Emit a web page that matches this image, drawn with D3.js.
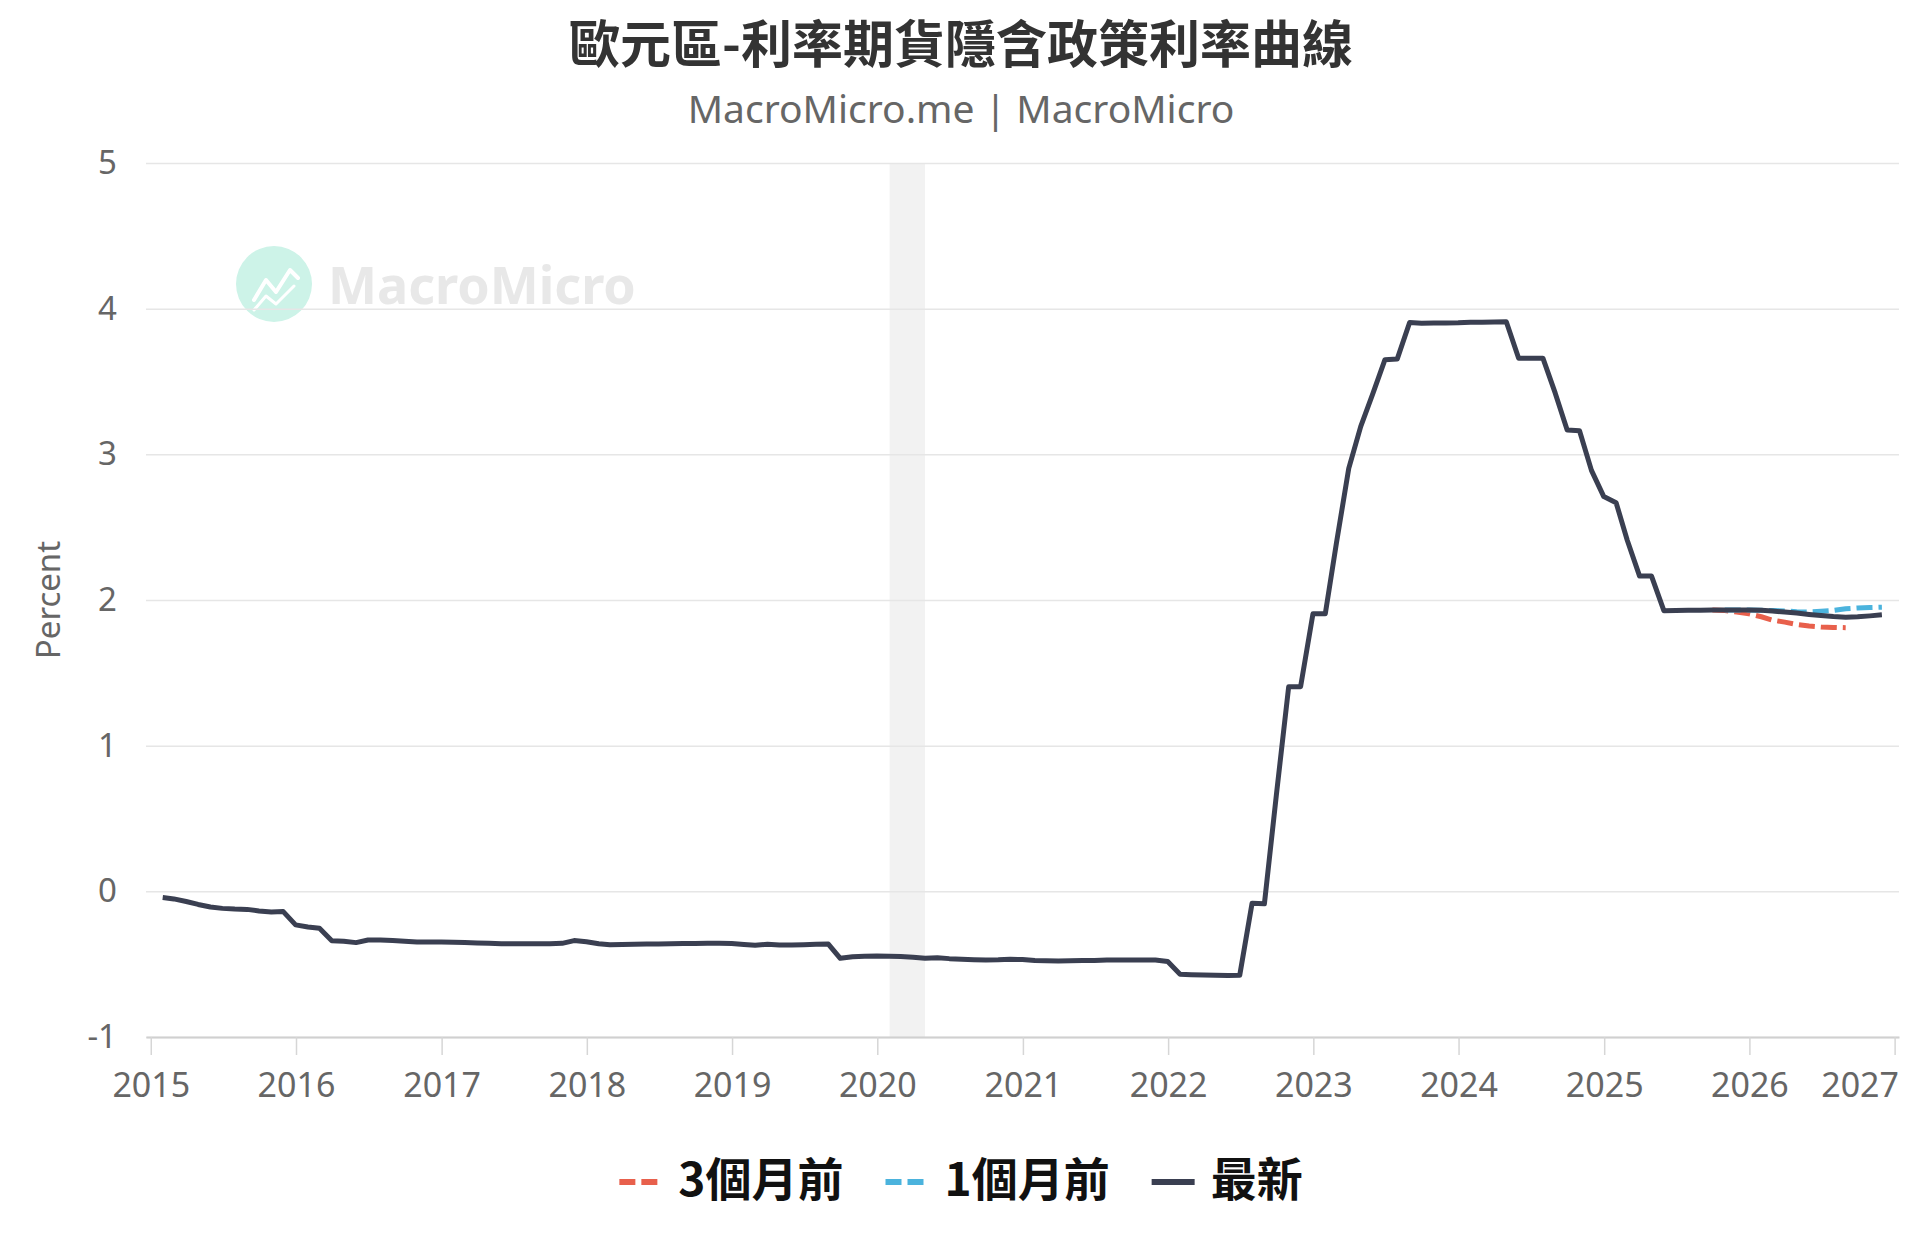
<!DOCTYPE html>
<html><head><meta charset="utf-8">
<script src="https://cdn.jsdelivr.net/npm/d3@7"></script>
<style>
body{margin:0;background:#fff;}
svg{display:block;font-family:"Noto Sans","Noto Sans CJK TC",sans-serif;}
</style>
</head><body>
<svg id="chart" width="1920" height="1250"></svg>
<script>
// ---------- data ----------
const chartTitle = "歐元區-利率期貨隱含政策利率曲線";
const chartSubtitle = "MacroMicro.me | MacroMicro";
const yAxisTitle = "Percent";
const yTickValues = [-1, 0, 1, 2, 3, 4, 5];
const xTickYears = [2015, 2016, 2017, 2018, 2019, 2020, 2021, 2022, 2023, 2024, 2025, 2026, 2027];
const seriesNames = ["3個月前", "1個月前", "最新"];
const recessionRange = ["2020-02-01", "2020-04-30"];

// monthly (month-end) observations
const latestStart = "2015-01";
const latestValues = [
  -0.043,-0.052,-0.07,-0.09,-0.108,-0.117,-0.122,-0.124,-0.135,-0.142,-0.139,-0.23,
  -0.245,-0.254,-0.34,-0.342,-0.352,-0.334,-0.334,-0.338,-0.343,-0.347,-0.347,-0.348,
  -0.35,-0.352,-0.354,-0.357,-0.359,-0.359,-0.359,-0.359,-0.359,-0.357,-0.338,-0.346,
  -0.36,-0.367,-0.365,-0.363,-0.362,-0.361,-0.36,-0.358,-0.358,-0.357,-0.357,-0.358,
  -0.365,-0.37,-0.364,-0.368,-0.369,-0.366,-0.364,-0.362,-0.46,-0.449,-0.445,-0.444,
  -0.446,-0.448,-0.452,-0.46,-0.456,-0.462,-0.466,-0.469,-0.471,-0.47,-0.467,-0.468,
  -0.475,-0.477,-0.478,-0.477,-0.475,-0.474,-0.471,-0.471,-0.471,-0.471,-0.472,-0.482,
  -0.569,-0.572,-0.574,-0.576,-0.578,-0.576,-0.082,-0.086,0.66,1.405,1.405,1.905,
  1.905,2.39,2.904,3.19,3.42,3.65,3.655,3.905,3.90,3.902,3.902,3.903,
  3.906,3.907,3.908,3.91,3.66,3.66,3.66,3.42,3.167,3.162,2.89,2.71,
  2.668,2.41,2.164,2.164,1.927,1.928,1.929,1.930,1.931,1.932,1.932,1.932,
  1.93,1.924,1.917,1.91,1.901,1.893,1.886,1.882,1.885,1.891,1.898
];
const threeMonthStart = "2025-09";
const threeMonthValues = [1.931,1.928,1.918,1.905,1.885,1.862,1.848,1.832,1.821,1.815,1.812,1.81];
const oneMonthStart = "2025-10";
const oneMonthValues = [1.932,1.932,1.932,1.93,1.928,1.924,1.92,1.918,1.922,1.928,1.94,1.945,1.948,1.95];

// ---------- helpers ----------
const parseMonth = d3.utcParse("%Y-%m");
function toPoints(start, values) {
  const s = parseMonth(start);
  return values.map((v, i) => ({ date: new Date(Date.UTC(s.getUTCFullYear(), s.getUTCMonth() + i + 1, 0)), value: v }));
}
const series = [
  { name: seriesNames[0], color: "#e8604c", dash: "16,6", points: toPoints(threeMonthStart, threeMonthValues) },
  { name: seriesNames[1], color: "#4bb3dd", dash: "16,6", points: toPoints(oneMonthStart, oneMonthValues) },
  { name: seriesNames[2], color: "#3a3f51", dash: null, points: toPoints(latestStart, latestValues) }
];

// ---------- layout ----------
const svg = d3.select("#chart");
const plot = { left: 146, right: 1899, top: 163, bottom: 1037 };
const x = d3.scaleUtc()
  .domain([new Date(Date.UTC(2014, 11, 20)), new Date(Date.UTC(2027, 0, 12))])
  .range([plot.left, plot.right]);
const y = d3.scaleLinear().domain([-1, 5]).range([plot.bottom, plot.top]);

svg.append("rect").attr("width", 1920).attr("height", 1250).attr("fill", "#fff");

// recession band
const rp = d3.utcParse("%Y-%m-%d");
svg.append("rect")
  .attr("x", x(rp(recessionRange[0])))
  .attr("width", x(rp(recessionRange[1])) - x(rp(recessionRange[0])))
  .attr("y", plot.top).attr("height", plot.bottom - plot.top)
  .attr("fill", "#f2f2f2");

// watermark
const wm = svg.append("g");
wm.append("circle").attr("cx", 274).attr("cy", 284).attr("r", 38).attr("fill", "#cdf3e8");
wm.append("polyline")
  .attr("points", "254,300 266,280 276,292 290,270 298,278")
  .attr("fill", "none").attr("stroke", "#fff").attr("stroke-width", 4)
  .attr("stroke-linejoin", "round").attr("stroke-linecap", "round");
wm.append("polyline")
  .attr("points", "254,310 266,296 276,304 294,286")
  .attr("fill", "none").attr("stroke", "#fff").attr("stroke-width", 3)
  .attr("stroke-linejoin", "round").attr("stroke-linecap", "round");
wm.append("text").attr("x", 328).attr("y", 304)
  .attr("font-size", 52).attr("font-weight", 700).attr("fill", "#e8e8e8")
  .text("MacroMicro");

// gridlines + y axis
const yAxis = d3.axisLeft(y).tickValues(yTickValues).tickSize(-(plot.right - plot.left)).tickPadding(29)
  .tickFormat(d => String(d));
const gy = svg.append("g").attr("transform", `translate(${plot.left},0)`).call(yAxis);
gy.select(".domain").remove();
gy.selectAll(".tick line").attr("stroke", "#e6e6e6").attr("stroke-width", 1.5);
gy.selectAll(".tick text").attr("fill", "#666").attr("font-size", 33).attr("font-family", "Noto Sans, sans-serif");

// x axis
const xAxis = d3.axisBottom(x)
  .tickValues(xTickYears.map(yr => new Date(Date.UTC(yr, 0, 1))))
  .tickFormat(d3.utcFormat("%Y")).tickSize(18).tickSizeOuter(0).tickPadding(18);
const gx = svg.append("g").attr("transform", `translate(0,${plot.bottom})`).call(xAxis);
gx.select(".domain").attr("stroke", "#d0d0d0").attr("stroke-width", 2);
gx.selectAll(".tick line").attr("stroke", "#d6d6d6").attr("stroke-width", 1.5);
gx.selectAll(".tick text").attr("fill", "#666").attr("font-size", 34).attr("font-family", "Noto Sans, sans-serif");
gx.selectAll(".tick text").each(function () {
  const bb = this.getBBox();
  const tx = +this.parentNode.getAttribute("transform").match(/translate\(([-\d.]+)/)[1];
  if (tx + bb.width / 2 > plot.right) {
    d3.select(this).attr("text-anchor", "end").attr("x", plot.right - tx);
  }
});

// y axis title
svg.append("text")
  .attr("transform", `translate(60,${(plot.top + plot.bottom) / 2}) rotate(-90)`)
  .attr("text-anchor", "middle").attr("fill", "#666").attr("font-size", 33)
  .text(yAxisTitle);

// lines
const line = d3.line().x(d => x(d.date)).y(d => y(d.value));
series.forEach(s => {
  svg.append("path").datum(s.points)
    .attr("d", line).attr("fill", "none")
    .attr("stroke", s.color).attr("stroke-width", 5)
    .attr("stroke-linejoin", "round")
    .attr("stroke-dasharray", s.dash);
});

// title
svg.append("text").attr("x", 961).attr("y", 63).attr("text-anchor", "middle")
  .attr("font-size", 51).attr("font-weight", 700).attr("fill", "#333")
  .attr("font-family", "Noto Sans CJK TC, Noto Sans, sans-serif")
  .text(chartTitle);
svg.append("text").attr("x", 961).attr("y", 123).attr("text-anchor", "middle")
  .attr("font-size", 39).attr("fill", "#666")
  .text(chartSubtitle);

// legend
const lg = svg.append("g");
const symW = 43, symGap = 16, itemGap = 42, legendY = 1180;
let cx = 0;
series.forEach(s => {
  const g = lg.append("g").attr("transform", `translate(${cx},0)`);
  g.append("line").attr("x1", 0).attr("x2", symW).attr("y1", legendY + 2).attr("y2", legendY + 2)
    .attr("stroke", s.color).attr("stroke-width", 6).attr("stroke-dasharray", s.dash);
  const t = g.append("text").attr("x", symW + symGap).attr("y", legendY + 16)
    .attr("font-size", 46).attr("font-weight", 700).attr("fill", "#111")
    .attr("font-family", "Noto Sans CJK TC, Noto Sans, sans-serif")
    .text(s.name);
  const w = symW + symGap + t.node().getComputedTextLength();
  cx += w + itemGap;
});
const totalW = cx - itemGap;
lg.attr("transform", `translate(${961 - totalW / 2},0)`);
</script>
</body></html>
